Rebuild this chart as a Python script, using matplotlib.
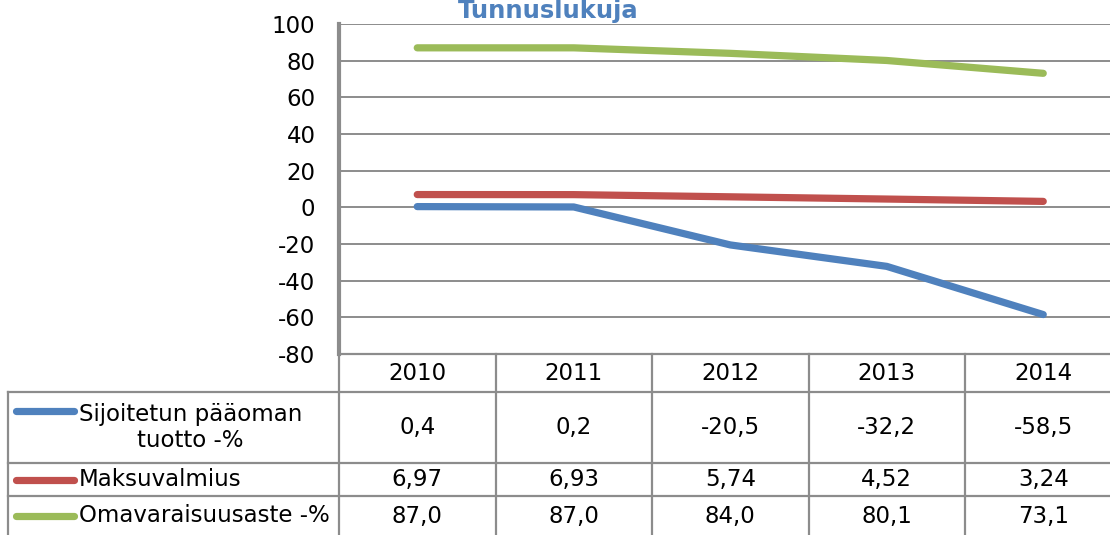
import numpy as np
import matplotlib
matplotlib.use("Agg")
import matplotlib.pyplot as plt
from matplotlib.lines import Line2D

# data
years = ["2010", "2011", "2012", "2013", "2014"]
series_names = ["Sijoitetun pääoman\ntuotto -%", "Maksuvalmius", "Omavaraisuusaste -%"]
sijoitetun = [0.4, 0.2, -20.5, -32.2, -58.5]
maksuvalmius = [6.97, 6.93, 5.74, 4.52, 3.24]
omavaraisuus = [87.0, 87.0, 84.0, 80.1, 73.1]
decimals = [1, 2, 1]
colors = ["#4F81BD", "#C0504D", "#9BBB59"]
yticks = [-80, -60, -40, -20, 0, 20, 40, 60, 80, 100]

W, H = 1110, 535
grid_col = "#8C8C8C"
fs = 16.5

fig = plt.figure(figsize=(W / 100, H / 100), dpi=100)

# layout in pixels
x0, cw = 339, 156.5
top, bot = 24, 354
ax = fig.add_axes([x0 / W, (H - bot) / H, cw * 5 / W, (bot - top) / H])

x = np.arange(len(years))
all_series = [sijoitetun, maksuvalmius, omavaraisuus]
for vals, c in zip(all_series, colors):
    ax.plot(x, vals, color=c, lw=5.2, solid_capstyle="round",
            solid_joinstyle="round", zorder=3)

ax.set_xlim(-0.5, len(years) - 0.5)
ax.set_ylim(-80, 100)
ax.set_yticks(yticks)
ax.set_yticklabels([str(v) for v in yticks], fontsize=fs)
ax.tick_params(axis="y", length=0, pad=17)
ax.set_xticks([])
for v in yticks:
    ax.axhline(v, color=grid_col, lw=1.4, zorder=1)
for s in ["top", "right", "bottom"]:
    ax.spines[s].set_visible(False)
ax.spines["left"].set_color(grid_col)
ax.spines["left"].set_linewidth(3)

fig.text(548 / W, 1 - 11 / H, "Tunnuslukuja", color="#4F81BD",
         fontsize=17.5, fontweight="bold", ha="center", va="center")

# data table drawn in pixel coordinates
tb = fig.add_axes([0, 0, 1, 1])
tb.set_xlim(0, W)
tb.set_ylim(H, 0)
tb.axis("off")
tb.patch.set_alpha(0)

lx = 8
rows = [bot, 392, 463, 496, 560]
edges = x0 + cw * np.arange(len(years) + 1)
lw_t = 1.6

tb.plot([x0, edges[-1]], [rows[0], rows[0]], color=grid_col, lw=lw_t)
for r in rows[1:4]:
    tb.plot([lx, edges[-1]], [r, r], color=grid_col, lw=lw_t)
tb.plot([lx, lx], [rows[1], rows[-1]], color=grid_col, lw=lw_t)
for e in edges:
    tb.plot([e, e], [rows[0], rows[-1]], color=grid_col, lw=lw_t)

centers = x0 + cw * (x + 0.5)
for xc, yr in zip(centers, years):
    tb.text(xc, (rows[0] + rows[1]) / 2 + 1, yr, fontsize=fs, ha="center", va="center")

row_mid = [(rows[1] + rows[2]) / 2, (rows[2] + rows[3]) / 2, 516]
key_y = [411, row_mid[1], row_mid[2]]
for i, (name, vals, c, d) in enumerate(zip(series_names, all_series, colors, decimals)):
    tb.add_line(Line2D([16, 74], [key_y[i], key_y[i]], color=c, lw=5.2,
                       solid_capstyle="round"))
    tb.text(79, row_mid[i], name, fontsize=fs, ha="left", va="center",
            multialignment="center", linespacing=1.2)
    for xc, v in zip(centers, vals):
        tb.text(xc, row_mid[i], f"{v:.{d}f}".replace(".", ","), fontsize=fs,
                ha="center", va="center")

fig.savefig("out.png", dpi=100)
